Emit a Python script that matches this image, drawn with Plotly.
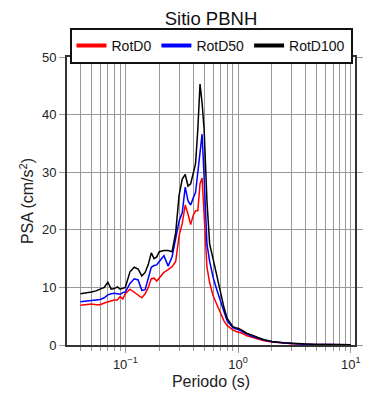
import numpy as np
import plotly.graph_objects as go

periods = [0.040, 0.045, 0.050, 0.055, 0.060, 0.065, 0.070, 0.075, 0.080, 0.085,
           0.090, 0.095, 0.100, 0.110, 0.120, 0.130, 0.140, 0.150, 0.160, 0.170,
           0.180, 0.190, 0.200, 0.220, 0.240, 0.260, 0.280, 0.300, 0.320, 0.340,
           0.360, 0.380, 0.400, 0.420, 0.440, 0.460, 0.480, 0.500, 0.530, 0.560,
           0.600, 0.650, 0.700, 0.750, 0.800, 0.850, 0.900, 0.950, 1.00, 1.10,
           1.20, 1.30, 1.40, 1.50, 1.70, 2.00, 2.50, 3.00, 4.00, 5.00,
           6.00, 7.50, 10.0]

rotd100 = [8.9, 9.0, 9.2, 9.4, 9.7, 10.0, 10.9, 9.7, 9.8, 10.1,
           9.7, 9.8, 10.0, 12.7, 13.5, 13.2, 12.0, 12.6, 14.0, 16.0,
           15.0, 15.3, 16.2, 16.4, 16.4, 16.2, 19.5, 26.0, 28.8, 29.6,
           27.6, 28.0, 29.8, 31.5, 37.5, 45.3, 42.0, 37.5, 25.0, 17.5,
           15.0, 12.0, 8.8, 6.5, 4.6, 3.8, 3.2, 3.0, 2.9, 2.5,
           2.0, 1.8, 1.5, 1.3, 0.9, 0.6, 0.4, 0.3, 0.15, 0.1,
           0.07, 0.05, 0.03]

rotd50 = [7.5, 7.6, 7.7, 7.7, 7.9, 8.2, 8.7, 8.9, 9.0, 8.9,
          8.8, 9.1, 9.2, 10.7, 11.5, 11.3, 9.5, 9.6, 11.5, 13.5,
          13.8, 13.9, 14.5, 15.5, 13.7, 15.3, 18.5, 21.5, 23.0, 27.4,
          25.0, 24.3, 25.5, 26.5, 30.0, 33.5, 36.6, 29.2, 17.5, 14.5,
          11.8, 9.5, 7.4, 5.8, 4.2, 3.5, 3.0, 2.8, 2.7, 2.3,
          1.9, 1.6, 1.4, 1.2, 0.85, 0.55, 0.35, 0.25, 0.15, 0.1,
          0.07, 0.05, 0.03]

rotd0 = [6.9, 7.0, 7.1, 7.0, 7.0, 7.3, 7.5, 7.6, 7.8, 7.8,
         8.4, 8.0, 8.9, 9.7, 9.1, 8.6, 8.2, 8.9, 10.0, 11.5,
         11.6, 11.1, 11.6, 12.6, 13.1, 13.6, 14.5, 19.0, 21.1, 24.3,
         22.7, 20.9, 22.5, 23.3, 23.3, 28.0, 29.0, 23.0, 13.5, 10.8,
         8.6, 7.0, 5.4, 4.2, 3.4, 2.9, 2.6, 2.4, 2.3, 2.0,
         1.6, 1.4, 1.2, 1.0, 0.75, 0.5, 0.3, 0.22, 0.12, 0.08,
         0.06, 0.04, 0.03]

series_names = ["RotD0", "RotD50", "RotD100"]
series_colors = ["#ff0000", "#0000ff", "#000000"]

major_ticks = [0.1, 1, 10]
major_text = ["10<sup>\u22121</sup>", "10<sup>0</sup>", "10<sup>1</sup>"]
minor_ticks = [m * 10.0 ** e for e in (-2, -1, 0) for m in range(2, 10)]

W, H = 382, 392

fig = go.Figure()
for name, col, vals in zip(series_names, series_colors, [rotd0, rotd50, rotd100]):
    fig.add_trace(go.Scatter(x=periods, y=vals, mode="lines", name=name,
                             line=dict(color=col, width=1.5), showlegend=False))
# legend entries with thicker line samples
for name, col in zip(series_names, series_colors):
    fig.add_trace(go.Scatter(x=[None], y=[None], mode="lines", name=name,
                             line=dict(color=col, width=4), showlegend=True))

fig.update_layout(
    width=W, height=H,
    margin=dict(l=59, r=35, t=49, b=55, autoexpand=False),
    paper_bgcolor="white", plot_bgcolor="white",
    font=dict(family="Liberation Sans, Arial, sans-serif", size=13, color="#222"),
    title=dict(text="Sitio PBNH", xref="paper", x=0.5, xanchor="center",
               yref="container", y=1 - 10.5 / H, yanchor="middle",
               font=dict(size=18.5, color="#111")),
    legend=dict(orientation="h", xref="paper", x=0.5, xanchor="center",
                yref="container", y=1 - 20 / H, yanchor="top",
                bordercolor="#111", borderwidth=2, bgcolor="white",
                font=dict(size=14, color="#111"), itemwidth=30,
                tracegroupgap=0),
    showlegend=True,
)

fig.update_xaxes(
    type="log", range=[np.log10(0.0304), np.log10(10.9)],
    tickvals=major_ticks, ticktext=major_text,
    ticks="outside", ticklen=6, tickcolor="#999", tickwidth=1,
    showgrid=True, gridcolor="#999", gridwidth=1,
    minor=dict(tickvals=minor_ticks, ticks="outside", ticklen=4, tickcolor="#999",
               showgrid=True, gridcolor="#999", gridwidth=1),
    showline=True, linecolor="#333", linewidth=2, mirror="allticks",
    tickfont=dict(size=13), zeroline=False, automargin=False,
    title=dict(text="Periodo (s)", font=dict(size=16), standoff=5),
)
fig.update_yaxes(
    range=[0, 50], tickvals=[0, 10, 20, 30, 40, 50],
    ticks="outside", ticklen=6, tickcolor="#999", tickwidth=1,
    showgrid=True, gridcolor="#999", gridwidth=1,
    showline=True, linecolor="#333", linewidth=2, mirror="allticks",
    tickfont=dict(size=13), zeroline=False, automargin=False,
    title=dict(text="PSA (cm/s<sup>2</sup>)", font=dict(size=16), standoff=4),
)

fig.write_html("out.html")
